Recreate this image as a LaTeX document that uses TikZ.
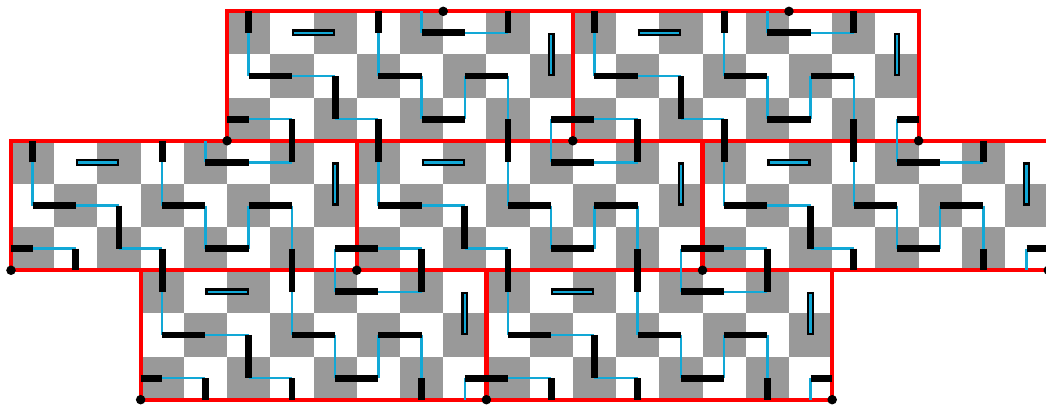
\documentclass[tikz,border=0pt]{standalone}
\definecolor{cellgray}{RGB}{153,153,153}
\definecolor{linkblue}{RGB}{18,168,214}
\tikzset{
  graycell/.style={fill=cellgray},
  tileborder/.style={draw=red, line width=2.8pt},
  blackbar/.style={draw=black, line width=4.5pt},
  blueline/.style={draw=linkblue, line width=1.6pt},
  latticedot/.style={fill=black},
}
\newcommand{\tileorigins}{3/0,11/0,0/3,8/3,16/3,5/6,13/6}
\begin{document}
\begin{tikzpicture}[x=1cm,y=0.9984cm]
\useasboundingbox (-0.2545,-0.123) rectangle (23.947,9.263);
% checkerboard fills
\foreach \ox/\oy in \tileorigins {
  \begin{scope}[shift={(\ox,\oy)}]
    \fill[white] (0,0) rectangle (8,3);
    \foreach \i in {0,2,4,6} {
      \fill[graycell] (\i,0) rectangle ++(1,1);
      \fill[graycell] (\i,2) rectangle ++(1,1);
      \fill[graycell] (\i+1,1) rectangle ++(1,1);
    }
  \end{scope}
}
% red tile borders
\foreach \ox/\oy in \tileorigins {
  \draw[tileborder] (\ox,\oy) rectangle ++(8,3);
}
% path segments
\foreach \ox/\oy in \tileorigins {
  \begin{scope}[shift={(\ox,\oy)}]
    \draw[blueline]
      (0.5,2.5)--(0.5,1.5) (1.5,1.5)--(2.5,1.5) (2.5,0.5)--(3.5,0.5)
      (0.5,0.5)--(1.5,0.5) (3.5,2.5)--(3.5,1.5) (4.5,3)--(4.5,2.5)
      (5.5,2.5)--(6.5,2.5) (4.5,1.5)--(4.5,0.5) (5.5,1.5)--(5.5,0.5)
      (6.5,1.5)--(6.5,0.5) (7.5,0.5)--(7.5,0);
    \draw[blackbar]
      (0.5,2.5)--(0.5,3) (0.5,1.5)--(1.5,1.5) (2.5,1.5)--(2.5,0.5)
      (3.5,0.5)--(3.5,0) (0,0.5)--(0.5,0.5) (1.5,0.5)--(1.5,0)
      (3.5,3)--(3.5,2.5) (3.5,1.5)--(4.5,1.5) (4.5,2.5)--(5.5,2.5)
      (6.5,3)--(6.5,2.5) (4.5,0.5)--(5.5,0.5) (5.5,1.5)--(6.5,1.5)
      (6.5,0.5)--(6.5,0) (7.5,0.5)--(8,0.5)
      (1.5,2.5)--(2.5,2.5) (7.5,2.5)--(7.5,1.5);
    \draw[blueline] (1.55,2.5)--(2.45,2.5) (7.5,2.45)--(7.5,1.55);
  \end{scope}
}
% lattice points
\foreach \p in {(3,0),(11,0),(19,0),(0,3),(8,3),(16,3),(24,3),(5,6),(13,6),(21,6),(10,9),(18,9)} {
  \fill[latticedot] \p circle (0.11);
}
\end{tikzpicture}
\end{document}
